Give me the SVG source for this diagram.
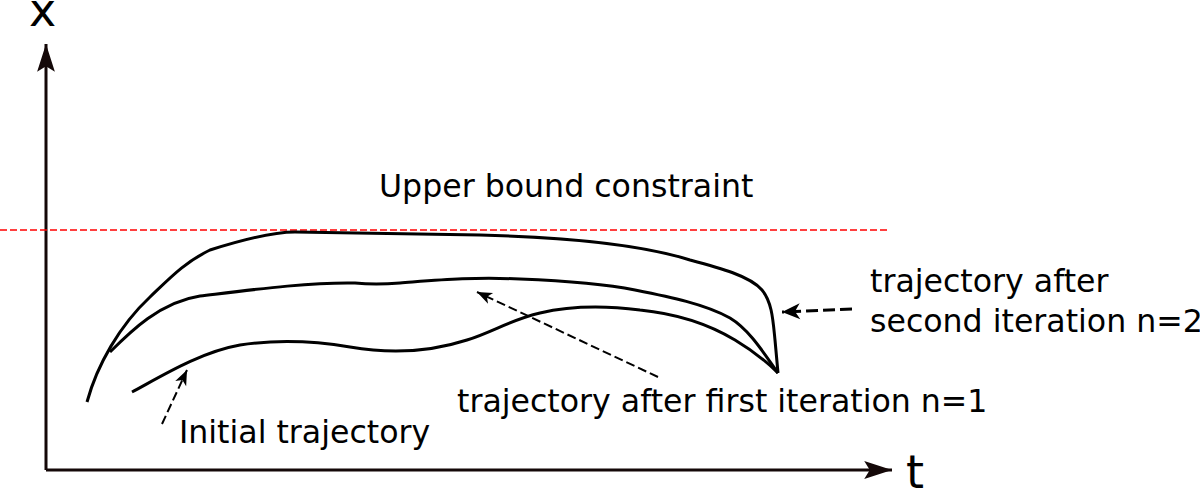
<svg xmlns="http://www.w3.org/2000/svg" width="1200" height="490" viewBox="0 0 1200 490">
<style>
text{font-family:"DejaVu Sans",sans-serif;font-size:31.6px;fill:#000}
.axlbl{font-size:46px}
.axis{stroke:#140808;stroke-width:3;fill:none}
.traj{stroke:#000;stroke-width:3;fill:none;stroke-linecap:butt}
.ptr{stroke:#000;stroke-width:2;fill:none;stroke-dasharray:9,4}
.ptr2{stroke:#000;stroke-width:3;fill:none;stroke-dasharray:12,5}
.bound{stroke:#ff0000;stroke-width:1.3;fill:none;stroke-dasharray:7,3}
</style>
<defs>
<marker id="axhead" markerUnits="userSpaceOnUse" markerWidth="30" markerHeight="20" viewBox="-26 -9 27 18" refX="0" refY="0" orient="auto">
<path d="M0,0 L-25,-8 L-20,0 L-25,8 Z" fill="#140808"/>
</marker>
<marker id="head" markerUnits="userSpaceOnUse" markerWidth="20" markerHeight="16" viewBox="-17 -8 18 16" refX="0" refY="0" orient="auto">
<path d="M0,0 L-15,-6 L-11,0 L-15,6 Z" fill="#000"/>
</marker>
<marker id="head2" markerUnits="userSpaceOnUse" markerWidth="22" markerHeight="18" viewBox="-20 -9 21 18" refX="0" refY="0" orient="auto">
<path d="M0,0 L-18,-8 L-13,0 L-18,8 Z" fill="#000"/>
</marker>
</defs>

<g id="axes">
<line class="axis" x1="46" y1="470" x2="46" y2="44" marker-end="url(#axhead)"/>
<line class="axis" x1="46" y1="470" x2="892" y2="470" marker-end="url(#axhead)"/>
<text class="axlbl" x="29" y="26">x</text>
<text class="axlbl" x="906" y="488">t</text>
</g>

<g id="upper-bound">
<line class="bound" x1="0" y1="230" x2="890" y2="230"/>
<text x="379" y="197">Upper bound constraint</text>
</g>

<g id="trajectory-n2">
<path class="traj" d="M87,402 C97,365 120,325 150,297 C170,278 185,262 210,250 C232,243 270,232 295,232 L480,235 C560,237 640,244 690,260 C720,268 750,276 762,290 C772,302 773,320 775,340 L778,373"/>
<text x="870" y="292">trajectory after</text>
<text x="870" y="332">second iteration n=2</text>
</g>

<g id="trajectory-n1">
<path class="traj" d="M110,352 C130,332 160,302 200,296 C250,290 310,282 355,283 C365,284 375,285 400,283 C440,280 470,277 520,279 C570,281 610,285 635,290 C670,297 705,304 730,318 C750,330 765,355 778,373"/>
<text x="457" y="412">trajectory after first iteration n=1</text>
</g>

<g id="trajectory-initial">
<path class="traj" d="M132,392 C160,377 200,352 240,345 C280,339 320,342 350,347 C390,354 430,352 467,340 C495,331 510,320 540,313 C570,306 600,305 640,310 C680,314 710,325 735,340 C755,352 768,363 778,373"/>
<text x="179" y="443">Initial trajectory</text>
</g>

<g id="connectors">
<line class="ptr" x1="162" y1="424" x2="187" y2="370" marker-end="url(#head)"/>
<line class="ptr" x1="658" y1="377" x2="477" y2="292" marker-end="url(#head)"/>
<line class="ptr2" x1="852" y1="309" x2="782" y2="312" marker-end="url(#head2)"/>
</g>
</svg>
